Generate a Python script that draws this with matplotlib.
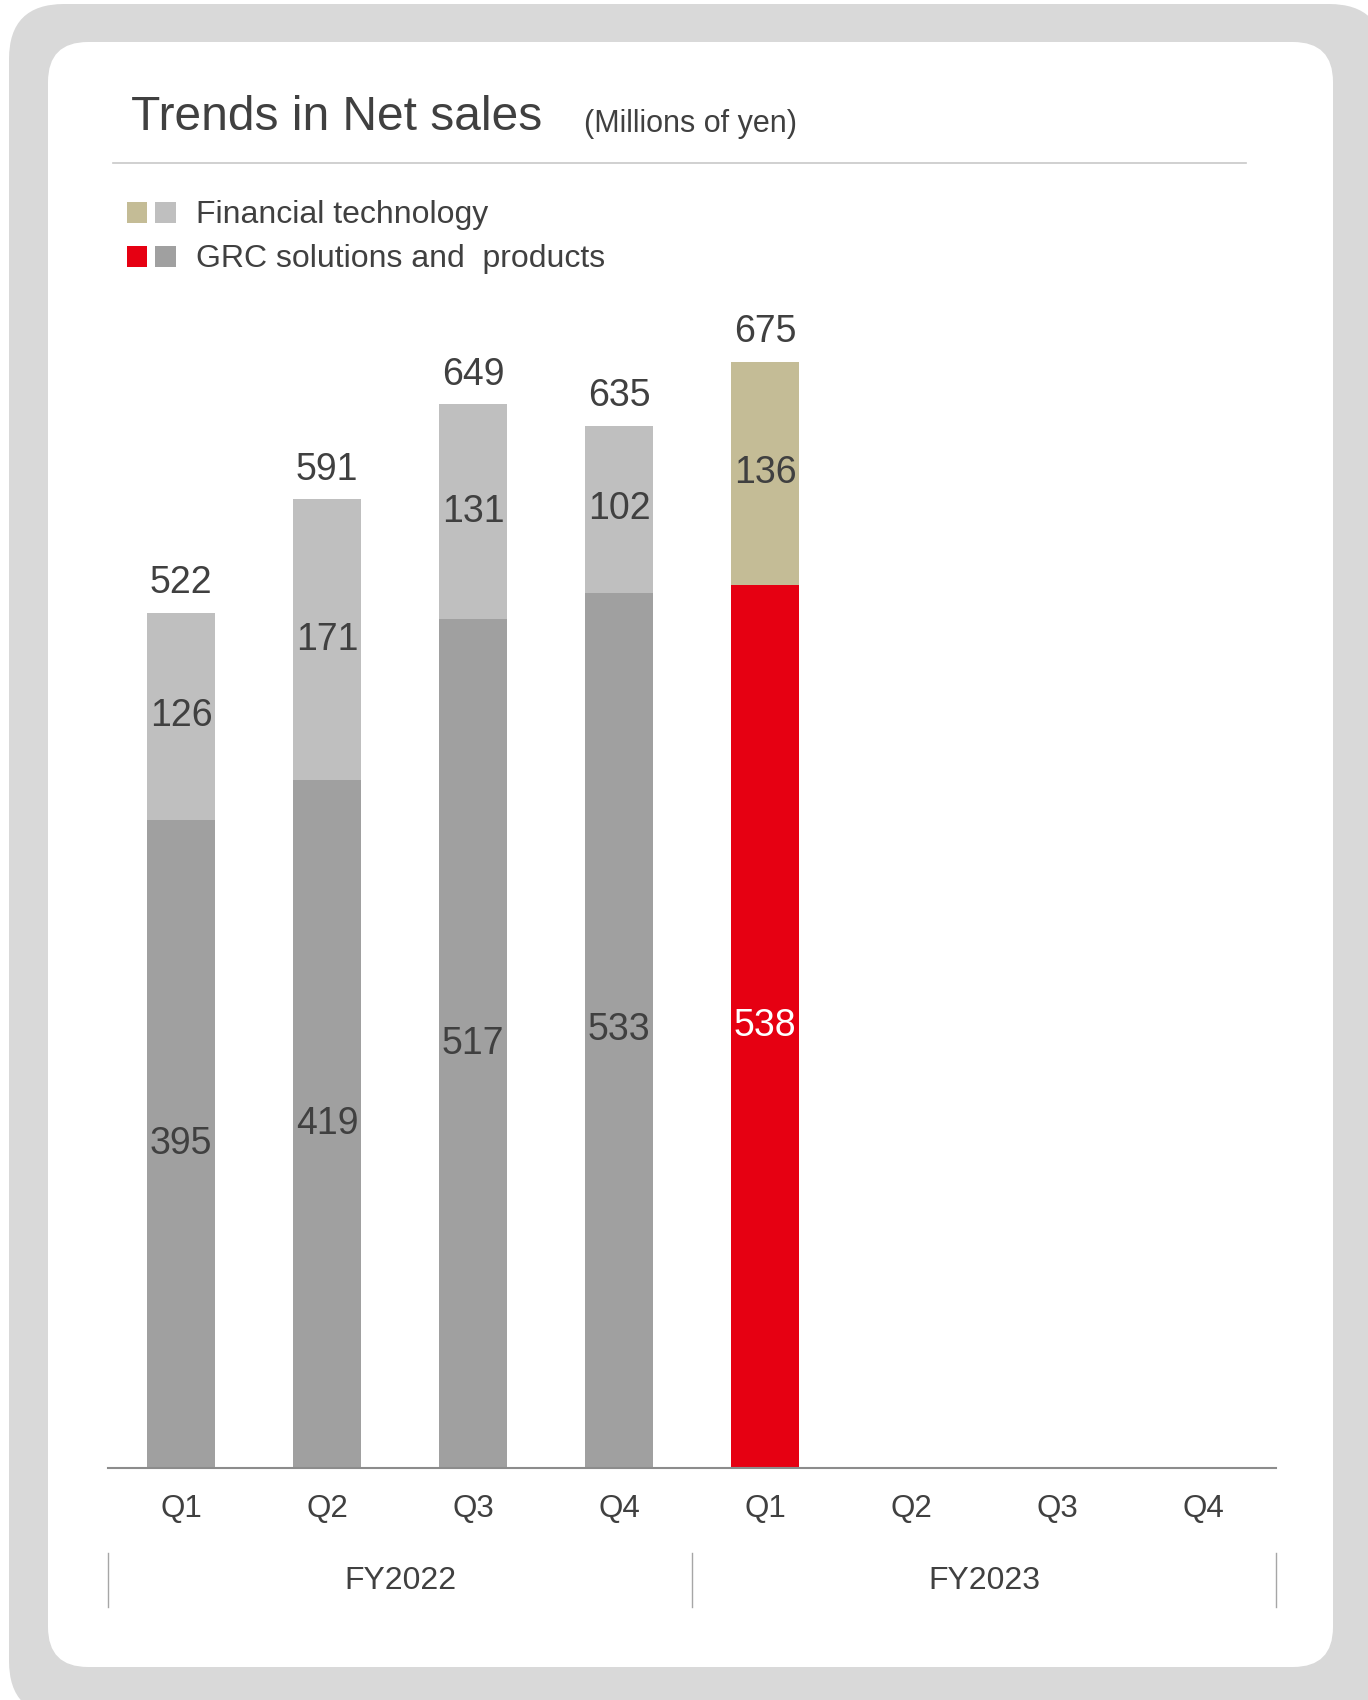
import matplotlib
matplotlib.use("Agg")
import matplotlib.pyplot as plt
from matplotlib.patches import FancyBboxPatch, Rectangle

plt.rcParams['font.family'] = ['Liberation Sans', 'DejaVu Sans']

# data (millions of yen)
quarters = ["Q1", "Q2", "Q3", "Q4", "Q1", "Q2", "Q3", "Q4"]
fiscal_years = ["FY2022", "FY2023"]
grc_sales = [395, 419, 517, 533, 538]
fin_sales = [126, 171, 131, 102, 136]
totals = [522, 591, 649, 635, 675]

text_col = "#404040"
grc_cols = ["#A0A0A0"] * 4 + ["#E60012"]
fin_cols = ["#BFBFBF"] * 4 + ["#C4BC96"]
grc_text = [text_col] * 4 + ["white"]

W, H = 1368, 1700
fig = plt.figure(figsize=(W / 100, H / 100), dpi=100)

# background frame, in pixel coordinates
bg = fig.add_axes([0, 0, 1, 1], zorder=0)
bg.set_xlim(0, W)
bg.set_ylim(H, 0)
bg.axis("off")
bg.add_patch(FancyBboxPatch((9, 4), 1375, 1712,
                            boxstyle="round,pad=0,rounding_size=55",
                            fc="#D9D9D9", ec="none"))
bg.add_patch(FancyBboxPatch((48, 42), 1285, 1625,
                            boxstyle="round,pad=0,rounding_size=40",
                            fc="white", ec="none"))

bg.text(131, 130, "Trends in Net sales", fontsize=34.5, color=text_col, va="baseline")
bg.text(584, 132, "(Millions of yen)", fontsize=22, color=text_col, va="baseline")
bg.plot([113, 1246], [163, 163], color="#C8C8C8", lw=1.2)

# legend
leg_rows = [("Financial technology", "#C4BC96", "#BFBFBF", 223),
            ("GRC solutions and  products", "#E60012", "#A0A0A0", 267)]
for label, c1, c2, yb in leg_rows:
    bg.add_patch(Rectangle((127, yb - 21), 20, 21, fc=c1, ec="none"))
    bg.add_patch(Rectangle((155, yb - 21), 21, 21, fc=c2, ec="none"))
    bg.text(196, yb, label, fontsize=23, color=text_col, va="baseline")

# chart
ax_bottom = (H - 1468) / H
ax_h = 1182 / H
ax = fig.add_axes([108 / W, ax_bottom, 1168 / W, ax_h], zorder=1)
ax.patch.set_alpha(0)

xs = list(range(len(grc_sales)))
ax.bar(xs, grc_sales, width=0.46, color=grc_cols)
ax.bar(xs, fin_sales, width=0.46, bottom=grc_sales, color=fin_cols)

for i in xs:
    ax.text(i, grc_sales[i] / 2, str(grc_sales[i]), ha="center", va="center",
            fontsize=27, color=grc_text[i])
    ax.text(i, grc_sales[i] + fin_sales[i] / 2, str(fin_sales[i]), ha="center",
            va="center", fontsize=27, color=text_col)
    ax.annotate(str(totals[i]), (i, grc_sales[i] + fin_sales[i]),
                xytext=(0, 14), textcoords="offset points", ha="center",
                va="baseline", fontsize=27, color=text_col)

ax.set_xlim(-0.5, 7.5)
ax.set_ylim(0, 720)
ax.set_xticks(range(len(quarters)))
ax.set_xticklabels(quarters, fontsize=22.5, color=text_col)
ax.tick_params(axis="x", length=0, pad=19)
ax.set_yticks([])
for s in ["top", "right", "left"]:
    ax.spines[s].set_visible(False)
ax.spines["bottom"].set_color("#8C8C8C")
ax.spines["bottom"].set_linewidth(1.5)

# fiscal year groups
xt = ax.get_xaxis_transform()
for j, fy in enumerate(fiscal_years):
    ax.text(1.5 + 4 * j, -0.0956, fy, transform=xt, ha="center", va="center",
            fontsize=23, color=text_col, clip_on=False)
for xsep in [-0.5, 3.5, 7.5]:
    ax.plot([xsep, xsep], [-0.0719, -0.1176], transform=xt, color="#A6A6A6",
            lw=1, clip_on=False)

fig.savefig("out.png", dpi=100)
